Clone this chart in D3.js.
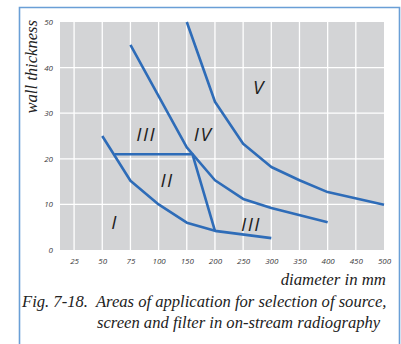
<!DOCTYPE html>
<html>
<head>
<meta charset="utf-8">
<script src="https://cdn.jsdelivr.net/npm/d3@7"></script>
<style>
  html, body { margin: 0; padding: 0; background: #fff; }
  svg { display: block; }
</style>
</head>
<body>
<svg id="chart" width="401" height="344"></svg>
<script>
// ---- data ----
const xTicks = [25, 50, 75, 100, 150, 200, 250, 300, 350, 400, 450, 500];
const yTicks = [0, 10, 20, 30, 40, 50];

// boundary curves: [diameter, wall thickness]
const curveLower = [[50, 25], [75, 15.2], [100, 10], [150, 6], [200, 4.2], [300, 2.6]];
const curveStep  = [[61, 21], [160, 21], [200, 4.2]];
const curveMid   = [[75, 45], [150, 22.5], [200, 15.3], [250, 11.2], [300, 9.2], [400, 6.1]];
const curveUpper = [[150, 50], [200, 32.5], [250, 23.3], [300, 18.2], [350, 15.3], [400, 12.7], [500, 9.9]];

const regionLabels = [
  { text: "I",   d: 61,  t: 6 },
  { text: "II",  d: 115, t: 15.3 },
  { text: "III", d: 89,  t: 25.5 },
  { text: "IV",  d: 179, t: 25.5 },
  { text: "V",   d: 278, t: 35.8 },
  { text: "III", d: 264, t: 5.6 }
];

const xTitle = "diameter in mm";
const yTitle = "wall thickness";
const caption1 = "Fig. 7-18.  Areas of application for selection of source,";
const caption2 = "screen and filter in on-stream radiography";

// ---- layout ----
const pL = 60, pR = 384, pT = 22, pB = 250;
const step = (pR - pL) / 11.5;
const xDomain = [12.5].concat(xTicks);
const x = d3.scaleLinear()
  .domain(xDomain)
  .range(xDomain.map((d, i) => pL + (i === 0 ? 0 : (i - 0.5) * step)));
const y = d3.scaleLinear().domain([0, 50]).range([pB, pT]);

const svg = d3.select("#chart");

// outer frame
svg.append("path")
  .attr("d", `M19.5,344 L19.5,7.5 L399.5,7.5 L399.5,344`)
  .attr("fill", "none")
  .attr("stroke", "#6a9fd6")
  .attr("stroke-width", 1.6);

// plot background
svg.append("rect")
  .attr("x", pL).attr("y", pT)
  .attr("width", pR - pL).attr("height", pB - pT)
  .attr("fill", "#d3d4d6");

// gridlines
const g = svg.append("g");
g.selectAll("line.vx")
  .data(xTicks.filter(d => d < 500))
  .join("line")
  .attr("x1", d => x(d)).attr("x2", d => x(d))
  .attr("y1", pT).attr("y2", pB)
  .attr("stroke", "#ffffff").attr("stroke-width", 1.3);
g.selectAll("line.hy")
  .data(yTicks.filter(d => d > 0 && d < 50))
  .join("line")
  .attr("x1", pL).attr("x2", pR)
  .attr("y1", d => y(d)).attr("y2", d => y(d))
  .attr("stroke", "#ffffff").attr("stroke-width", 1.3);

// axes
const xAxis = svg.append("g")
  .attr("transform", `translate(0,${pB})`)
  .call(d3.axisBottom(x).tickValues(xTicks).tickSize(0).tickPadding(8).tickFormat(d3.format("d")));
const yAxis = svg.append("g")
  .attr("transform", `translate(${pL},0)`)
  .call(d3.axisLeft(y).tickValues(yTicks).tickSize(0).tickPadding(7).tickFormat(d3.format("d")));
[xAxis, yAxis].forEach(a => {
  a.select(".domain").remove();
  a.selectAll("text")
    .attr("font-family", "'Open Sans', sans-serif")
    .attr("font-style", "italic")
    .attr("font-size", 8)
    .attr("fill", "#3a3a3a");
});

// curves
const line = d3.line().x(d => x(d[0])).y(d => y(d[1]));
[curveLower, curveStep, curveMid, curveUpper].forEach(c => {
  svg.append("path")
    .attr("d", line(c))
    .attr("fill", "none")
    .attr("stroke", "#2e6cb8")
    .attr("stroke-width", 2.6)
    .attr("stroke-linejoin", "round");
});

// region labels
svg.selectAll("text.region")
  .data(regionLabels)
  .join("text")
  .attr("class", "region")
  .attr("x", d => x(d.d))
  .attr("y", d => y(d.t))
  .attr("dy", "0.36em")
  .attr("text-anchor", "middle")
  .attr("font-family", "'Open Sans', sans-serif")
  .attr("font-style", "italic")
  .attr("font-size", 19)
  .attr("letter-spacing", 1.5)
  .attr("fill", "#1e1e1e")
  .text(d => d.text);

// titles
const serif = "'Liberation Serif', 'Times New Roman', serif";
svg.append("text")
  .attr("transform", "translate(37,20) rotate(-90)")
  .attr("text-anchor", "end")
  .attr("font-family", serif)
  .attr("font-style", "italic")
  .attr("font-size", 16.6)
  .attr("fill", "#222")
  .text(yTitle);

svg.append("text")
  .attr("x", 386).attr("y", 285)
  .attr("text-anchor", "end")
  .attr("font-family", serif)
  .attr("font-style", "italic")
  .attr("font-size", 16.8)
  .attr("fill", "#222")
  .text(xTitle);

svg.append("text")
  .attr("x", 22).attr("y", 307)
  .attr("font-family", serif)
  .attr("font-style", "italic")
  .attr("font-size", 16.6)
  .attr("fill", "#222")
  .attr("xml:space", "preserve")
  .style("white-space", "pre")
  .text(caption1);

svg.append("text")
  .attr("x", 97).attr("y", 328)
  .attr("font-family", serif)
  .attr("font-style", "italic")
  .attr("font-size", 16.6)
  .attr("fill", "#222")
  .text(caption2);
</script>
</body>
</html>
